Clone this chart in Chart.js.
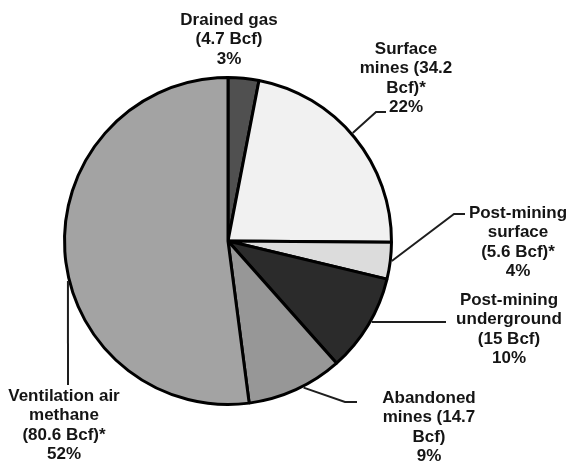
<!DOCTYPE html>
<html>
<head>
<meta charset="utf-8">
<script src="https://cdn.jsdelivr.net/npm/chart.js@4"></script>
<style>
  html, body { margin: 0; padding: 0; background: #fff; }
  #wrap { width: 568px; height: 461px; position: relative; }
</style>
</head>
<body>
<div id="wrap"><canvas id="coalPie"></canvas></div>
<script>
// coal mine methane sources, Bcf
const categories = ["Drained gas", "Surface mines", "Post-mining surface",
    "Post-mining underground", "Abandoned mines", "Ventilation air methane"];
const bcfValues = [4.7, 34.2, 5.6, 15, 14.7, 80.6];
const percentLabels = ["3%", "22%", "4%", "10%", "9%", "52%"];
const labelLines = [
    ["Drained gas", "(4.7 Bcf)"],
    ["Surface", "mines (34.2", "Bcf)*"],
    ["Post-mining", "surface", "(5.6 Bcf)*"],
    ["Post-mining", "underground", "(15 Bcf)"],
    ["Abandoned", "mines (14.7", "Bcf)"],
    ["Ventilation air", "methane", "(80.6 Bcf)*"]
];
const sliceColors = ["#505050", "#f1f1f1", "#dcdcdc", "#2b2b2b", "#979797", "#a3a3a3"];

// where each text block sits, and how its leader line runs
// frac = position along the slice's arc where the leader starts
const labelLayout = [
    { x: 229, y: 20, leader: null },
    { x: 406, y: 49, leader: { frac: 0.48, pts: [[376, 112], [386, 112]] } },
    { x: 518, y: 213, leader: { frac: 0.5, pts: [[454, 214], [465, 214]] } },
    { x: 509, y: 300, leader: { frac: 0.456, pts: [[446, 322]] } },
    { x: 429, y: 398, leader: { frac: 0.42, pts: [[345, 402], [357, 402]] } },
    { x: 64, y: 396, leader: { frac: 0.445, pts: [[68, 385]] } }
];
const lineHeight = 19.5;

const labelPlugin = {
    id: "sliceLabels",
    afterDatasetsDraw(chart) {
        const ctx = chart.ctx;
        const arcs = chart.getDatasetMeta(0).data;
        ctx.save();

        // leader lines
        ctx.strokeStyle = "#1e1e1e";
        ctx.lineWidth = 2;
        arcs.forEach((arc, i) => {
            const lead = labelLayout[i].leader;
            if (!lead) return;
            const p = arc.getProps(["x", "y", "startAngle", "endAngle", "outerRadius"], true);
            const a = p.startAngle + (p.endAngle - p.startAngle) * lead.frac;
            const r = p.outerRadius + 1.5;
            ctx.beginPath();
            ctx.moveTo(p.x + Math.cos(a) * r, p.y + Math.sin(a) * r);
            lead.pts.forEach(pt => ctx.lineTo(pt[0], pt[1]));
            ctx.stroke();
        });

        // text
        ctx.fillStyle = "#151515";
        ctx.font = 'bold 17px "Liberation Sans", Arial, sans-serif';
        ctx.textAlign = "center";
        ctx.textBaseline = "middle";
        labelLines.forEach((lines, i) => {
            const pos = labelLayout[i];
            const all = lines.concat([percentLabels[i]]);
            all.forEach((t, k) => {
                ctx.fillText(t, pos.x, pos.y + k * lineHeight);
            });
        });
        ctx.restore();
    }
};

new Chart(document.getElementById("coalPie"), {
    type: "pie",
    data: {
        labels: categories,
        datasets: [{
            data: bcfValues,
            backgroundColor: sliceColors,
            borderColor: "#000",
            borderWidth: 3
        }]
    },
    options: {
        responsive: true,
        maintainAspectRatio: false,
        animation: false,
        layout: {
            padding: { left: 63, top: 76, right: 175, bottom: 55 }
        },
        plugins: {
            legend: { display: false },
            tooltip: { enabled: false }
        }
    },
    plugins: [labelPlugin]
});
</script>
</body>
</html>
